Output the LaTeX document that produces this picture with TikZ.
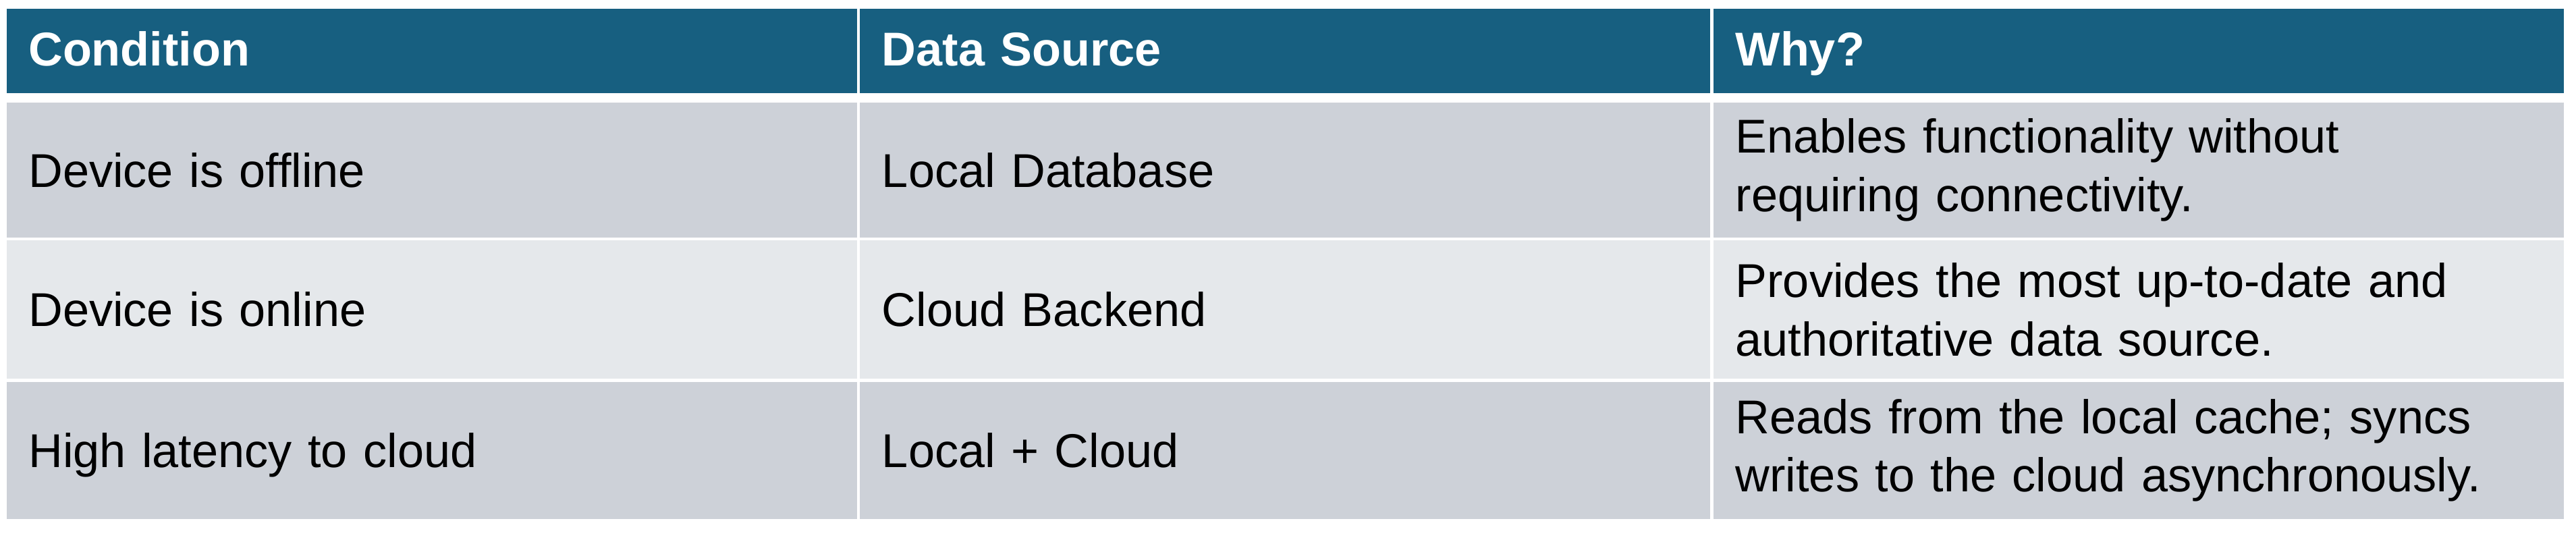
\documentclass[tikz,border=0pt]{standalone}
\usepackage{fontspec}
\setmainfont{Liberation Sans}
\usetikzlibrary{positioning}
\definecolor{headblue}{HTML}{175F80}
\definecolor{rowdark}{HTML}{CDD1D8}
\definecolor{rowlight}{HTML}{E5E8EB}

\begin{document}
\begin{tikzpicture}[
  cell/.style={draw=white, line width=0.045cm, anchor=north west, inner xsep=0.35cm, inner ysep=0pt,
    text width=11.947cm, align=left, font=\fontsize{20}{24.7}\selectfont},
  oneline/.style={text height=14.3pt, text depth=0pt},
  headcell/.style={cell, oneline, text depth=2pt, fill=headblue, text=white, minimum height=1.2925cm,
    font=\fontsize{20}{24.7}\selectfont\bfseries},
  ]
  \useasboundingbox (0,0) rectangle (38.17,-8.06);
  \foreach \t [count=\j from 0] in {Condition, Data Source, Why?} {
    \node[headcell] (head\j) at (0.05+12.647*\j, -0.09) {\t};
  }
  \foreach \y/\h/\c/\a/\b/\w [count=\i] in {
      1.4775/2.04/rowdark/Device is offline/Local Database/{Enables functionality without\\requiring connectivity.},
      3.5175/2.0925/rowlight/Device is online/Cloud Backend/{Provides the most up-to-date and\\authoritative data source.},
      5.61/2.0825/rowdark/High latency to cloud/Local + Cloud/{Reads from the local cache; syncs\\writes to the cloud asynchronously.}} {
    \node[cell, oneline, fill=\c, minimum height=\h cm] (cond\i) at (0.05, -\y) {\a};
    \node[cell, oneline, fill=\c, minimum height=\h cm] (src\i) at (12.697, -\y) {\b};
    \node[cell, fill=\c, minimum height=\h cm] (why\i) at (25.344, -\y) {\w};
  }
\end{tikzpicture}
\end{document}
